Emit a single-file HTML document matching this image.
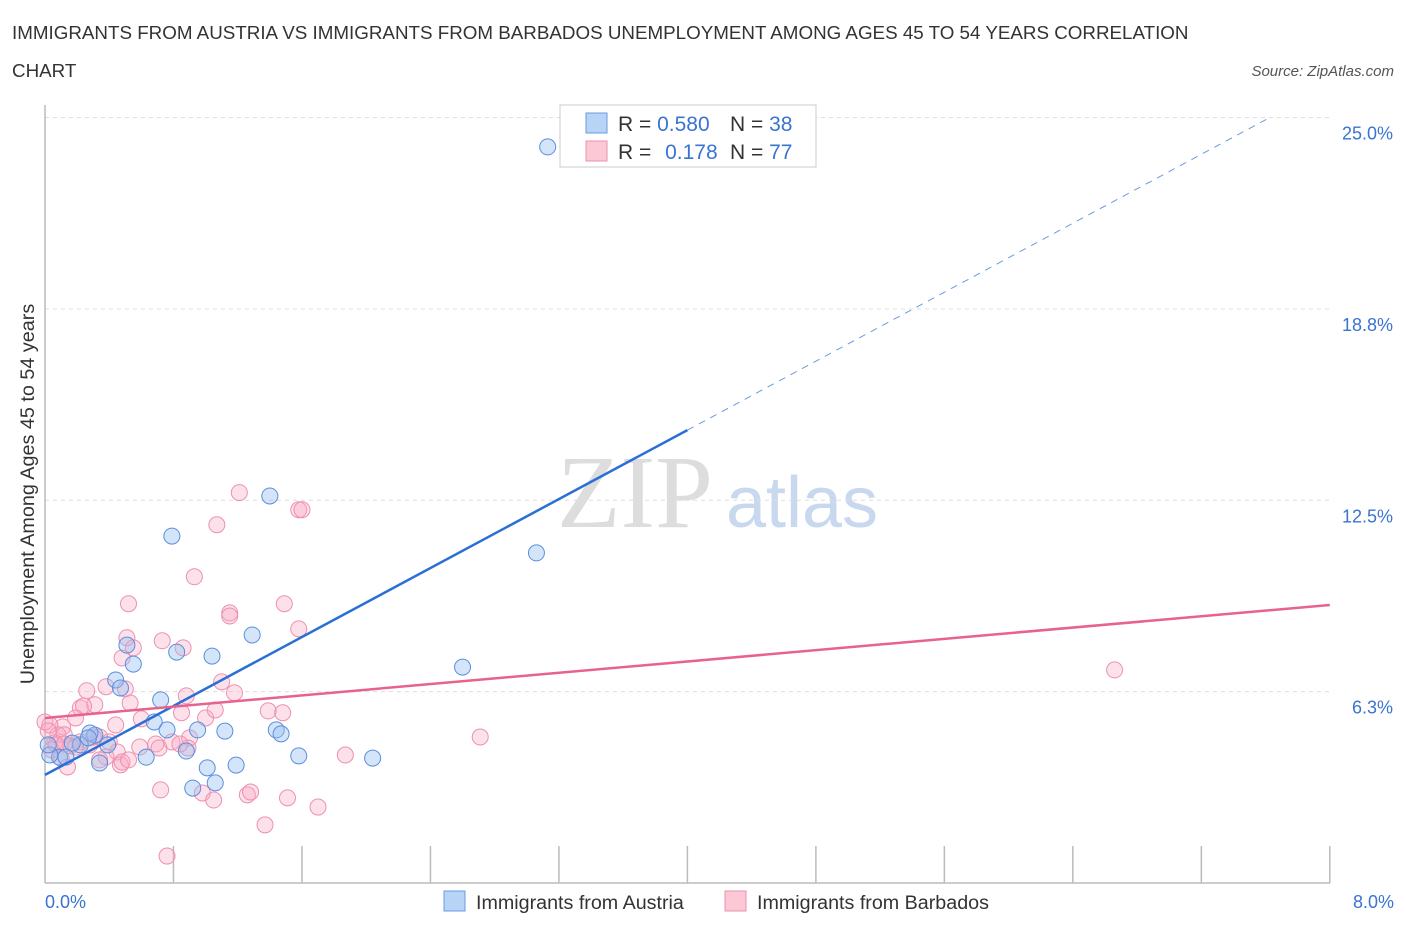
<!DOCTYPE html>
<html><head><meta charset="utf-8"><style>
body{margin:0;width:1406px;height:930px;background:#fff;font-family:"Liberation Sans",sans-serif;overflow:hidden}
</style></head><body>
<svg id="c" width="1406" height="930" xmlns="http://www.w3.org/2000/svg">
<text x="12" y="39" font-size="18.8" fill="#333">IMMIGRANTS FROM AUSTRIA VS IMMIGRANTS FROM BARBADOS UNEMPLOYMENT AMONG AGES 45 TO 54 YEARS CORRELATION</text>
<text x="12" y="77" font-size="18.8" fill="#333">CHART</text>
<text x="1394" y="76" font-size="15" fill="#555" font-style="italic" text-anchor="end">Source: ZipAtlas.com</text>
<text x="635" y="527" font-size="104" fill="#ddd" font-family="Liberation Serif,serif" text-anchor="middle">ZIP</text>
<text x="802" y="527" font-size="72" fill="#c8d8ee" text-anchor="middle">atlas</text>
<text transform="translate(34,494) rotate(-90)" font-size="19.8" fill="#333" text-anchor="middle">Unemployment Among Ages 45 to 54 years</text>
<g id="grid"></g><g id="pts"></g><g id="lines"></g>
<g>
<rect x="560" y="105" width="256" height="62" fill="#fff" stroke="#ccc"/>
<rect x="586" y="113" width="21" height="20" fill="#b7d3f5" stroke="#6a9be0"/>
<rect x="586" y="141" width="21" height="20" fill="#fcc8d6" stroke="#ec8fab"/>
<text x="618" y="131" font-size="21" fill="#333">R = <tspan fill="#3a74d0">0.580</tspan></text>
<text x="730" y="131" font-size="21" fill="#333">N = <tspan fill="#3a74d0">38</tspan></text>
<text x="618" y="159" font-size="21" fill="#333">R = <tspan fill="#3a74d0" dx="8">0.178</tspan></text>
<text x="730" y="159" font-size="21" fill="#333">N = <tspan fill="#3a74d0">77</tspan></text>
</g>
<g>
<rect x="444" y="891" width="21" height="20" fill="#b7d3f5" stroke="#6a9be0"/>
<text x="476" y="909" font-size="19.7" fill="#333">Immigrants from Austria</text>
<rect x="725" y="891" width="21" height="20" fill="#fcc8d6" stroke="#ec8fab"/>
<text x="757" y="909" font-size="19.7" fill="#333">Immigrants from Barbados</text>
</g>
<text x="45" y="908" font-size="18" fill="#3a74d0">0.0%</text>
<text x="1394" y="908" font-size="18" fill="#3a74d0" text-anchor="end">8.0%</text>
</svg>
<script>
const yTicks=[6.25,12.5,18.75,25];
const yTickLabels=["6.3%","12.5%","18.8%","25.0%"];
const austriaX=[3.13,0.79,1.40,3.06,2.60,1.29,1.04,0.82,0.55,0.51,0.44,0.47,0.72,0.68,0.76,1.12,0.95,1.44,1.47,1.58,2.04,0.88,1.01,1.19,0.92,1.06,0.63,0.39,0.31,0.28,0.22,0.17,0.09,0.13,0.03,0.02,0.34,0.27];
const austriaY=[24.04,11.33,12.64,10.78,7.05,8.10,7.41,7.54,7.15,7.77,6.63,6.37,5.98,5.26,5.00,4.96,5.00,5.00,4.87,4.15,4.08,4.31,3.76,3.85,3.10,3.27,4.11,4.51,4.83,4.90,4.51,4.57,4.11,4.11,4.18,4.51,3.92,4.74];
const barbX=[1.21,1.58,1.60,1.07,0.93,0.52,1.49,1.15,1.15,1.58,0.51,0.73,0.55,0.86,0.48,6.66,1.10,0.26,0.38,0.50,0.88,1.18,0.31,0.22,0.24,0.19,0.53,0.60,0.85,1.39,1.48,1.00,1.06,0.11,0.08,0.03,0.00,0.44,0.12,0.28,0.06,0.34,0.02,0.69,0.71,0.90,0.45,0.38,0.34,1.87,0.47,0.10,0.14,2.71,0.48,0.79,0.16,0.52,0.59,0.07,0.89,0.04,0.72,0.98,1.05,1.26,1.28,1.51,1.70,1.37,0.76,0.40,0.22,0.30,0.12,0.19,0.84];
const barbY=[12.75,12.19,12.19,11.70,10.00,9.12,9.12,8.82,8.72,8.30,8.01,7.91,7.68,7.68,7.35,6.96,6.57,6.28,6.41,6.34,6.11,6.21,5.82,5.72,5.78,5.39,5.88,5.36,5.56,5.62,5.56,5.39,5.65,5.10,4.84,5.16,5.26,5.16,4.84,4.51,4.58,4.77,4.97,4.54,4.41,4.74,4.28,4.12,4.02,4.18,3.86,4.08,3.79,4.77,3.95,4.61,4.48,4.02,4.44,4.51,4.41,4.35,3.04,2.94,2.71,2.88,2.97,2.78,2.48,1.90,0.88,4.61,4.61,4.77,4.54,4.44,4.54];
const ns="http://www.w3.org/2000/svg";
const X=v=>45+v*160.6, Y=v=>883-v*30.62;
function mk(tag,a,p){const e=document.createElementNS(ns,tag);for(const k in a)e.setAttribute(k,a[k]);p.appendChild(e);return e;}
const g=document.getElementById('grid');
yTicks.forEach((t,i)=>{
 const l=mk('line',{x1:45,x2:1330,y1:Y(t),y2:Y(t),stroke:'#ddd','stroke-dasharray':'4,4'},g);
 
 
 const tx=mk('text',{x:1393,y:Y(t)+22,'font-size':18,fill:'#3a74d0','text-anchor':'end'},g);
 tx.textContent=yTickLabels[i];
 
 
});
const ax=mk('line',{x1:45,x2:1330,y1:883,y2:883,stroke:'#bbb','stroke-width':1.5},g);


const ay=mk('line',{x1:45,x2:45,y1:105,y2:883,stroke:'#bbb','stroke-width':1.5},g);


for(let i=1;i<=10;i++){const t=mk('line',{x1:X(i*0.8),x2:X(i*0.8),y1:846,y2:883,stroke:'#bbb','stroke-width':1.5},g);
 
 }
const p=document.getElementById('pts');
barbX.forEach((v,i)=>{const c=mk('circle',{cx:X(v),cy:Y(barbY[i]),r:8,fill:'rgba(248,170,195,0.35)',stroke:'#ee90ae','stroke-width':1},p);
 
 });
austriaX.forEach((v,i)=>{const c=mk('circle',{cx:X(v),cy:Y(austriaY[i]),r:8,fill:'rgba(150,190,240,0.4)',stroke:'#5a8ede','stroke-width':1},p);
 
 });
const L=document.getElementById('lines');
const a0=3.53, slope=(14.79-3.53)/4.0;
const ay4=a0+slope*4.0;
let e=mk('line',{x1:X(0),y1:Y(a0),x2:X(4.0),y2:Y(ay4),stroke:'#2a6fd6','stroke-width':2.5},L);


const xe=(25-a0)/slope;
e=mk('line',{x1:X(4.0),y1:Y(ay4),x2:X(xe),y2:Y(25),stroke:'#6a9be0','stroke-width':1,'stroke-dasharray':'7,6'},L);


e=mk('line',{x1:X(0),y1:Y(5.39),x2:X(8),y2:Y(9.08),stroke:'#e8628e','stroke-width':2.5},L);


</script>
</body></html>
